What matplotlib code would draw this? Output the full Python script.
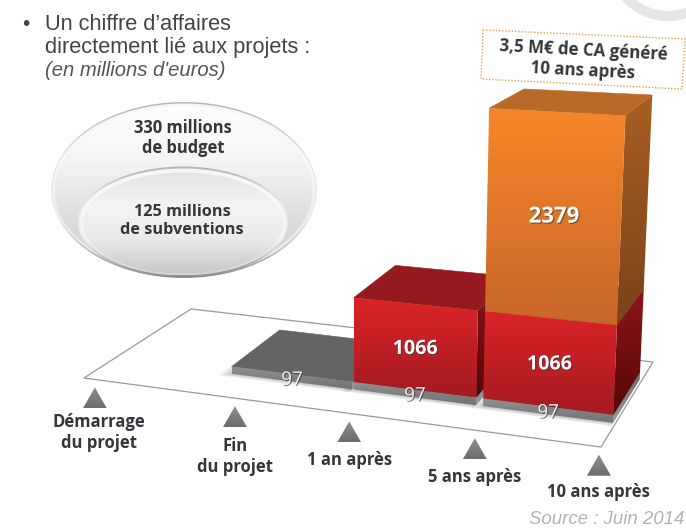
import numpy as np
import matplotlib
matplotlib.use("Agg")
import matplotlib.pyplot as plt
import matplotlib.patheffects as pe
from matplotlib.colors import LinearSegmentedColormap
from matplotlib.patches import Polygon, Ellipse, Arc

# values
gray_vals = [97, 97, 97]
red_vals = [0, 1066, 1066]
orange_vals = [0, 0, 2379]
milestones = ["Démarrage\ndu projet", "Fin\ndu projet", "1 an après", "5 ans après", "10 ans après"]
heading = ["Un chiffre d’affaires", "directement lié aux projets :"]
heading_it = "(en millions d'euros)"
callout = "3,5 M€ de CA généré\n10 ans après"
budget = "330 millions\nde budget"
subv = "125 millions\nde subventions"
source = "Source : Juin 2014"

# floor corners in pixels: front left, front right, back right, back left
FL, FR, BR, BL = [(84, 378), (601, 447), (653, 362), (191, 309)]
col_u = [(0.235, 0.475), (0.478, 0.722), (0.736, 0.995)]
mile_u = [0.021, 0.292, 0.513, 0.756, 0.996]
mile_dy = [34, 39, 38, 38, 36]
v_front, v_back = 0.28, 0.79

FONT = "Open Sans"
DARK = "#33363a"

fig = plt.figure(figsize=(6.86, 5.32), dpi=100)
ax = fig.add_axes([0, 0, 1, 1])
z = [3]


def nextz():
    z[0] += 1
    return z[0]


def floor(u, v):
    fx, fy = FL[0] + (FR[0] - FL[0]) * u, FL[1] + (FR[1] - FL[1]) * u
    bx, by = BL[0] + (BR[0] - BL[0]) * u, BL[1] + (BR[1] - BL[1]) * u
    return fx + (bx - fx) * v, fy + (by - fy) * v


def project(u, v, val):
    # value to pixel height, with a bit of perspective
    x, y = floor(u, v)
    h = val * 0.0802 * (1 + 1.4e-5 * val)
    h = h * (1 + 0.12 * (u - 0.74)) * (1 - 0.145 * (v - 0.28))
    return x + (x - 354) * 1.55e-4 * h, y - h


def grad_patch(patch, c_top, c_bot, stops=None):
    zz = nextz()
    patch.set(facecolor="none", edgecolor="none", zorder=zz)
    ax.add_patch(patch)
    pts = patch.get_path().vertices
    pts = patch.get_patch_transform().transform(pts) if not isinstance(patch, Polygon) else pts
    x0, x1, y0, y1 = pts[:, 0].min(), pts[:, 0].max(), pts[:, 1].min(), pts[:, 1].max()
    cm = LinearSegmentedColormap.from_list("g", stops if stops else [c_top, c_bot])
    im = ax.imshow(np.linspace(0, 1, 256).reshape(-1, 1), extent=(x0, x1, y1, y0), cmap=cm,
                   aspect="auto", zorder=zz, vmin=0, vmax=1)
    im.set_clip_path(patch)


def segment(i, bottom, top, front, side, roof):
    u0, u1 = col_u[i]
    a = project(u0, v_front, bottom)
    b = project(u1, v_front, bottom)
    c = project(u1, v_front, top)
    d = project(u0, v_front, top)
    e = project(u1, v_back, bottom)
    f = project(u1, v_back, top)
    g = project(u0, v_back, top)
    grad_patch(Polygon([b, e, f, c]), side[0], side[1])
    ax.add_patch(Polygon([d, c, f, g], facecolor=roof, edgecolor=roof, lw=0.4, zorder=nextz()))
    grad_patch(Polygon([a, b, c, d]), front[0], front[1])


def value_label(i, bottom, top, size, weight="bold", color="white"):
    u = sum(col_u[i]) / 2
    x0, y0 = project(u, v_front, bottom)
    x1, y1 = project(u, v_front, top)
    ax.text((x0 + x1) / 2, (y0 + y1) / 2 + 2, str(top - bottom), color=color, fontsize=size, family=FONT,
            weight=weight, ha="center", va="center", zorder=200,
            path_effects=[pe.withSimplePatchShadow(offset=(0.8, -0.8), shadow_rgbFace="#333333", alpha=0.6)])


# logo arc in the corner
ax.add_patch(Arc((668, -40), 112, 112, theta1=0, theta2=180, color="#e6e6e4", lw=7.2, zorder=1))

# heading
ax.text(22, 24, "•", fontsize=15, color="#444444", family="Liberation Sans", ha="left", va="center")
for k, line in enumerate(heading):
    ax.text(45, 24 + k * 23, line, fontsize=15.7, color="#444444", family="Liberation Sans", va="center")
ax.text(45, 71, heading_it, fontsize=14.6, color="#555555", family="Liberation Sans", style="italic", va="center")

# budget ellipses
grad_patch(Ellipse((184, 190), 266, 176), None, None, stops=["#b4b4b4", "#e8e8e8", "#ededed", "#8e8e8e"])
grad_patch(Ellipse((184, 190), 263, 173), None, None, stops=["#f6f6f6", "#fbfbfb", "#ececec", "#e8e8e8"])
grad_patch(Ellipse((183.5, 190), 258, 168), None, None, stops=["#fdfdfd", "#f5f5f5", "#dddddd", "#cccccc"])
grad_patch(Ellipse((183, 222), 210, 111), None, None, stops=["#b4b4b4", "#ececec", "#f0f0f0", "#8c8c8c"])
grad_patch(Ellipse((183, 222), 206, 107), None, None, stops=["#f6f6f6", "#fafafa", "#f2f2f2", "#d4d4d4"])
grad_patch(Ellipse((183, 223), 200, 101), None, None, stops=["#e4e4e4", "#f4f4f4", "#eaeaea", "#c8c8c8"])
ax.text(183, 138, budget, fontsize=11.9, color=DARK, family=FONT, weight="bold", ha="center", va="center",
        linespacing=1.2, zorder=200)
ax.text(182, 221, subv, fontsize=11.7, color=DARK, family=FONT, weight="bold", ha="center", va="center",
        linespacing=1.2, zorder=200)

# floor
ax.add_patch(Polygon([FL, FR, BR, BL], facecolor="white", edgecolor="#9a9a9a", lw=0.9, zorder=2))

# soft shadow round the slabs
for i in range(3):
    u0, u1 = col_u[i]
    for grow in [0.018, 0.012, 0.006]:
        ax.add_patch(Polygon([floor(u0 - grow, v_front - grow * 2), floor(u1, v_front - grow * 2),
                              floor(u1, v_back), floor(u0 - grow, v_back)],
                             facecolor="#555555", edgecolor="none", alpha=0.11, zorder=3))

# columns
for i in range(3):
    g_top = gray_vals[i]
    r_top = g_top + red_vals[i]
    o_top = r_top + orange_vals[i]
    segment(i, 0, g_top, ("#909090", "#737373"), ("#6a6a6a", "#9a9a9a"), "#636464")
    if red_vals[i]:
        segment(i, g_top, r_top, ("#dc2329", "#a31b20"), ("#8e1519", "#560707"), "#951a20")
    if orange_vals[i]:
        segment(i, r_top, o_top, ("#f68628", "#c8662a"), ("#a85f22", "#7a431a"), "#b96a28")

for i in range(3):
    g_top = gray_vals[i]
    r_top = g_top + red_vals[i]
    value_label(i, 0, g_top, 13.5, weight="normal", color="#f2f2f2")
    if red_vals[i]:
        value_label(i, g_top, r_top, 14.2)
    if orange_vals[i]:
        value_label(i, r_top, r_top + orange_vals[i], 16)

# milestones
for k, u in enumerate(mile_u):
    x, y = floor(u, 0)
    grad_patch(Polygon([(x, y + 8), (x - 12, y + 29), (x + 12, y + 29)]), "#8e8e8e", "#6c6c6c")
    ax.text(x + (4 if k == 0 else 0), y + mile_dy[k], milestones[k], fontsize=12, color=DARK, family=FONT,
            weight="bold", ha="center", va="top", linespacing=1.17, zorder=200)

# callout
ax.add_patch(Polygon([(483, 30), (685, 39), (682, 89), (481, 79)], facecolor="none", edgecolor="#f49b4e", lw=1.0,
                     ls=(0, (1, 1.3)), zorder=3))
ax.text(583, 60.5, callout, fontsize=12.2, color=DARK, family=FONT, weight="bold", ha="center", va="center",
        rotation=-3, rotation_mode="anchor", linespacing=1.2, zorder=200)

# source
ax.text(684, 519, source, fontsize=13.4, color="#b3b3b3", family="Liberation Sans", style="italic", ha="right",
        va="center")

ax.set_xlim(0, 686)
ax.set_ylim(532, 0)
ax.axis("off")
fig.savefig("out.png", dpi=100)
